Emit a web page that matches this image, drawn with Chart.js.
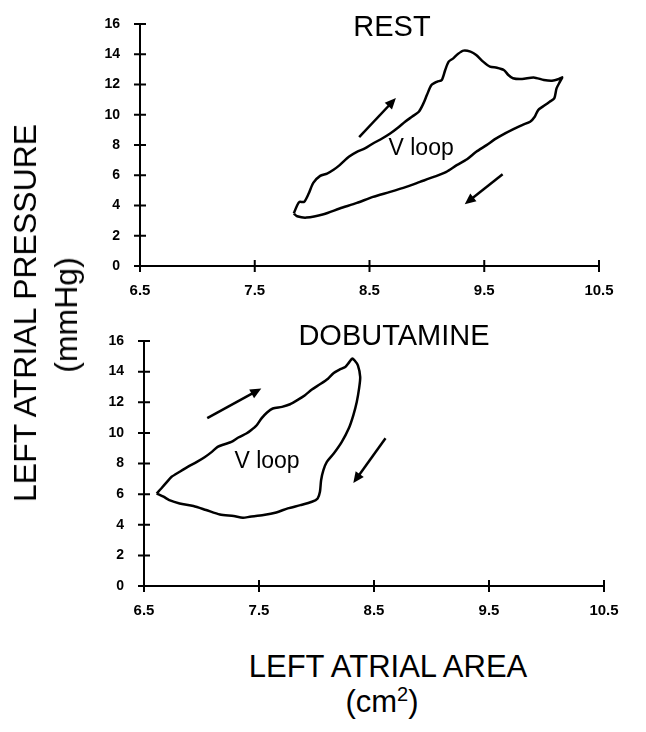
<!DOCTYPE html>
<html>
<head>
<meta charset="UTF-8">
<script src="https://cdn.jsdelivr.net/npm/chart.js"></script>
<style>
    body { margin: 0; background: #fff; }
    #page { position: relative; width: 646px; height: 732px; overflow: hidden; font-family: "Liberation Sans", Arial, sans-serif; color: #000; }
    canvas { position: absolute; left: 0; }
    .txt { position: absolute; white-space: nowrap; line-height: 1; }
    .titleY { transform: translate(-50%, -50%) rotate(-90deg); font-size: 32px; }
    .center { transform: translate(-50%, 0); }
</style>
</head>
<body>
<div id="page">
    <canvas id="chartRest" width="646" height="310" style="top:0"></canvas>
    <canvas id="chartDobu" width="646" height="320" style="top:310px"></canvas>

    <div class="txt center" style="left:392px; top:12px; font-size:29px;">REST</div>
    <div class="txt center" style="left:394px; top:321px; font-size:29px;">DOBUTAMINE</div>

    <div class="txt titleY" style="left:25px; top:313px;">LEFT ATRIAL PRESSURE</div>
    <div class="txt titleY" style="left:66px; top:315px;">(mmHg)</div>

    <div class="txt center" style="left:388px; top:651px; font-size:31px;">LEFT ATRIAL AREA</div>
    <div class="txt center" style="left:382px; top:684px; font-size:31px;">(cm<sup style="font-size:20px;">2</sup>)</div>
</div>

<script>
    // eixos
    var xTicks = [6.5, 7.5, 8.5, 9.5, 10.5]
    var yTicks = [0, 2, 4, 6, 8, 10, 12, 14, 16]

    // REST loop (area cm2, pressure mmHg)
    var restArea = [7.84, 7.87, 7.89, 7.93, 7.97, 8.01, 8.07, 8.13, 8.19, 8.24, 8.32, 8.39, 8.46, 8.53, 8.61,
        8.68, 8.75, 8.81, 8.87, 8.93, 8.97, 9.00, 9.04, 9.09, 9.13, 9.16, 9.19, 9.23, 9.27, 9.32, 9.38, 9.43,
        9.49, 9.55, 9.61, 9.67, 9.71, 9.75, 9.83, 9.93, 10.02, 10.09, 10.15, 10.18, 10.16, 10.13, 10.11, 10.07,
        10.03, 9.97, 9.94, 9.90, 9.83, 9.75, 9.67, 9.59, 9.52, 9.43, 9.35, 9.26, 9.17, 9.06, 8.94, 8.82, 8.68,
        8.53, 8.39, 8.24, 8.10, 7.95, 7.87, 7.84]
    var restPressure = [3.47, 4.02, 4.24, 4.24, 4.79, 5.50, 5.96, 6.11, 6.38, 6.67, 7.22, 7.55, 7.77, 8.10, 8.43,
        8.76, 9.16, 9.54, 9.87, 10.20, 10.75, 11.30, 11.96, 12.19, 12.30, 12.96, 13.51, 13.73, 14.02, 14.24, 14.17, 13.95,
        13.51, 13.18, 13.11, 12.96, 12.63, 12.41, 12.36, 12.47, 12.30, 12.25, 12.36, 12.47, 12.19, 11.74, 11.08, 10.86,
        10.64, 10.31, 9.87, 9.54, 9.32, 9.03, 8.72, 8.37, 7.99, 7.55, 7.06, 6.67, 6.23, 5.89, 5.56, 5.23, 4.90,
        4.57, 4.17, 3.80, 3.42, 3.20, 3.29, 3.47]

    // DOBUTAMINE loop
    var dobuArea = [6.61, 6.65, 6.70, 6.74, 6.81, 6.88, 6.96, 7.03, 7.09, 7.14, 7.20, 7.26, 7.32, 7.39, 7.43,
        7.48, 7.52, 7.57, 7.62, 7.70, 7.77, 7.84, 7.90, 7.96, 8.03, 8.10, 8.15, 8.20, 8.25, 8.28, 8.31, 8.33,
        8.36, 8.38, 8.37, 8.35, 8.32, 8.28, 8.22, 8.15, 8.09, 8.06, 8.04, 8.03, 8.01, 7.96, 7.86, 7.75, 7.65,
        7.54, 7.42, 7.36, 7.28, 7.16, 7.04, 6.93, 6.81, 6.72, 6.67, 6.61]
    var dobuPressure = [6.04, 6.37, 6.80, 7.13, 7.46, 7.78, 8.11, 8.43, 8.76, 9.09, 9.26, 9.41, 9.70, 9.96, 10.17,
        10.50, 10.93, 11.33, 11.59, 11.70, 11.87, 12.17, 12.46, 12.83, 13.17, 13.54, 13.91, 14.13, 14.30, 14.57, 14.85, 14.74,
        14.41, 13.65, 12.89, 12.02, 11.15, 10.28, 9.41, 8.65, 8.11, 7.57, 6.91, 6.15, 5.72, 5.50, 5.28, 5.07, 4.80,
        4.63, 4.52, 4.46, 4.57, 4.67, 4.96, 5.22, 5.39, 5.61, 5.83, 6.04]

    // setas [x0, y0, x1, y1] e rotulo "V loop" [x, y]
    var restArrows = [[8.41, 8.52, 8.73, 11.1], [9.66, 6.07, 9.33, 4.09]]
    var dobuArrows = [[7.05, 10.96, 7.52, 12.9], [8.60, 9.65, 8.32, 6.72]]
    var restLabel = [8.95, 7.73]
    var dobuLabel = [7.57, 8.09]
    var loopText = 'V loop'

    var fonte = '"Liberation Sans", Arial, sans-serif'

    function pontos(xs, ys) {
        var pts = []
        for (var i = 0; i < xs.length; i++) {
            pts.push({ x: xs[i], y: ys[i] })
        }
        return pts
    }

    // desenha marcas cruzando os eixos, setas e o texto
    var extras = {
        id: 'extras',
        afterDraw: function (chart, args, opts) {
            var ctx = chart.ctx
            var sx = chart.scales.x
            var sy = chart.scales.y
            var a = chart.chartArea
            ctx.save()
            ctx.strokeStyle = '#000'
            ctx.fillStyle = '#000'
            ctx.lineWidth = 2
            ctx.beginPath()
            yTicks.forEach(function (v) {
                var py = sy.getPixelForValue(v)
                ctx.moveTo(a.left - 6, py)
                ctx.lineTo(a.left + 6, py)
            })
            xTicks.forEach(function (v) {
                var px = sx.getPixelForValue(v)
                ctx.moveTo(px, a.bottom - 6)
                ctx.lineTo(px, a.bottom + 6)
            })
            ctx.stroke()

            ctx.lineWidth = 2.5
            opts.arrows.forEach(function (ar) {
                var x0 = sx.getPixelForValue(ar[0]), y0 = sy.getPixelForValue(ar[1])
                var x1 = sx.getPixelForValue(ar[2]), y1 = sy.getPixelForValue(ar[3])
                var ang = Math.atan2(y1 - y0, x1 - x0)
                ctx.beginPath()
                ctx.moveTo(x0, y0)
                ctx.lineTo(x1 - 6 * Math.cos(ang), y1 - 6 * Math.sin(ang))
                ctx.stroke()
                ctx.beginPath()
                ctx.moveTo(x1, y1)
                ctx.lineTo(x1 - 11 * Math.cos(ang) + 5 * Math.sin(ang), y1 - 11 * Math.sin(ang) - 5 * Math.cos(ang))
                ctx.lineTo(x1 - 11 * Math.cos(ang) - 5 * Math.sin(ang), y1 - 11 * Math.sin(ang) + 5 * Math.cos(ang))
                ctx.closePath()
                ctx.fill()
            })

            ctx.font = '23px ' + fonte
            ctx.textAlign = 'center'
            ctx.textBaseline = 'middle'
            ctx.fillText(loopText, sx.getPixelForValue(opts.label[0]), sy.getPixelForValue(opts.label[1]))
            ctx.restore()
        }
    }

    function plotarLoop(id, xs, ys, arrows, label, pad, yWidth) {
        var config = {
            type: 'scatter',
            data: {
                datasets: [{
                    data: pontos(xs, ys),
                    showLine: true,
                    borderColor: '#000',
                    borderWidth: 2.5,
                    pointRadius: 0,
                    tension: 0.25,
                    fill: false
                }]
            },
            options: {
                responsive: false,
                animation: false,
                layout: { padding: pad },
                plugins: {
                    legend: { display: false },
                    tooltip: { enabled: false },
                    extras: { arrows: arrows, label: label }
                },
                scales: {
                    x: {
                        type: 'linear',
                        min: 6.5,
                        max: 10.5,
                        grid: { display: false },
                        border: { display: true, color: '#000', width: 2 },
                        afterBuildTicks: function (scale) {
                            scale.ticks = xTicks.map(function (v) { return { value: v } })
                        },
                        afterFit: function (scale) { scale.height = 42 },
                        ticks: {
                            color: '#000',
                            padding: 8,
                            maxRotation: 0,
                            font: { family: fonte, size: 15, weight: 'bold' },
                            callback: function (v) { return v.toFixed(1) }
                        }
                    },
                    y: {
                        min: 0,
                        max: 16,
                        grid: { display: false },
                        border: { display: true, color: '#000', width: 2 },
                        afterBuildTicks: function (scale) {
                            scale.ticks = yTicks.map(function (v) { return { value: v } })
                        },
                        afterFit: function (scale) { scale.width = yWidth },
                        ticks: {
                            color: '#000',
                            padding: 12,
                            font: { family: fonte, size: 14, weight: 'bold' }
                        }
                    }
                }
            },
            plugins: [extras]
        }
        return new Chart(document.getElementById(id), config)
    }

    plotarLoop('chartRest', restArea, restPressure, restArrows, restLabel,
        { left: 0, top: 24, right: 47, bottom: 2 }, 140)
    plotarLoop('chartDobu', dobuArea, dobuPressure, dobuArrows, dobuLabel,
        { left: 0, top: 31, right: 42, bottom: 2 }, 144)
</script>
</body>
</html>
